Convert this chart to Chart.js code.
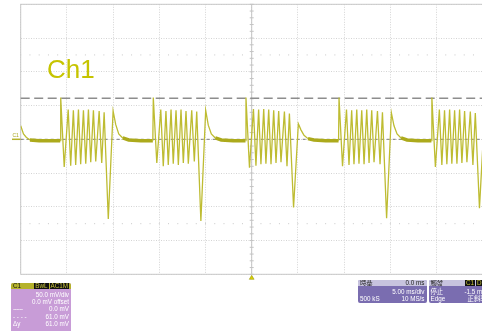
<!DOCTYPE html>
<html>
<head>
<meta charset="utf-8">
<script src="https://cdn.jsdelivr.net/npm/chart.js@4"></script>
<style>
  body { margin: 0; width: 482px; height: 331px; overflow: hidden; background: #fff; position: relative;
         font-family: 'Liberation Sans', 'Noto Sans CJK TC', sans-serif; }
  #wrap { position: absolute; left: 0; top: 0; width: 484px; height: 331px; }
  .ch1 { position: absolute; left: 47px; top: 55.8px; font-size: 26px; color: #c6c400; line-height: 26px; }
  .box { position: absolute; border-radius: 2px; overflow: hidden; color: #fff; font-size: 6.3px; }
  .hd { height: 6px; line-height: 6.4px; padding: 0 2px; display: flex; justify-content: space-between; }
  .row { height: 7.2px; line-height: 7.2px; padding: 0 2px; display: flex; justify-content: space-between; white-space: nowrap; }
  .chip { background: #111; color: #c8c43a; padding: 0 1px; margin-left: 1px; }
</style>
</head>
<body>
<div id="wrap"><canvas id="scopeChart" width="484" height="331"></canvas></div>
<div class="ch1">Ch1</div>

<div class="box" style="left:11px;top:283px;width:60px;height:50px;background:#c89cd7;">
  <div class="hd" style="background:#b5b22c;color:#111;"><span>C1</span><span><span class="chip">BwL</span><span class="chip">AC1M</span></span></div>
  <div style="height:2px"></div>
  <div class="row"><span></span><span>50.0 mV/div</span></div>
  <div class="row"><span></span><span>0.0 mV offset</span></div>
  <div class="row"><span style="letter-spacing:-0.5px">------</span><span>0.0 mV</span></div>
  <div class="row"><span>- - - -</span><span>61.0 mV</span></div>
  <div class="row"><span>Δy</span><span>61.0 mV</span></div>
</div>

<div class="box" style="left:358px;top:280px;width:68.5px;height:22.5px;background:#7a6db0;">
  <div class="hd" style="background:#c7c3de;color:#222;"><span>時基</span><span>0.0 ms</span></div>
  <div style="height:1.5px"></div>
  <div class="row"><span></span><span>5.00 ms/div</span></div>
  <div class="row"><span>500 kS</span><span>10 MS/s</span></div>
</div>

<div class="box" style="left:428.5px;top:280px;width:60px;height:22.5px;background:#7a6db0;">
  <div class="hd" style="background:#c7c3de;color:#222;"><span>觸發</span><span style="padding-right:4px"><span class="chip">C1</span><span class="chip">D</span></span></div>
  <div style="height:1.5px"></div>
  <div class="row"><span>停止</span><span>-1.5 mV</span></div>
  <div class="row"><span>Edge</span><span>正斜率</span></div>
</div>

<script>
// time in ms, voltage in mV (5 ms/div, 50 mV/div)
const leadIn = [[-25.0, 20], [-24.7, 8], [-24.4, 3], [-24.0, -1], [-23.0, -2], [-21.0, -2], [-20.72, -2]];

const burst1 = [
    [-20.67, 62], [-20.29, -41], [-19.86, 44], [-19.59, -39], [-19.30, 43], [-19.05, -38],
    [-18.75, 44], [-18.51, -37], [-18.21, 43], [-17.96, -36], [-17.67, 44], [-17.42, -34],
    [-17.13, 43], [-16.88, -33], [-16.51, 42], [-16.23, -35], [-15.97, 40], [-15.52, -118],
    [-15.00, 42], [-14.72, 22], [-14.39, 8], [-13.96, 2], [-13.31, -1], [-12.0, -2], [-10.70, -2]
];
const burst2 = [
    [-10.65, 62], [-10.27, -35], [-9.84, 44], [-9.57, -40], [-9.28, 42], [-9.03, -38],
    [-8.73, 44], [-8.49, -36], [-8.19, 43], [-7.94, -38], [-7.65, 44], [-7.40, -35],
    [-7.11, 42], [-6.86, -36], [-6.49, 43], [-6.21, -33], [-5.95, 41], [-5.50, -121],
    [-4.98, 43], [-4.70, 21], [-4.37, 8], [-3.94, 2], [-3.29, -1], [-2.0, -2], [-0.67, -2]
];
const burst3 = [
    [-0.62, 62], [-0.24, -42], [0.19, 45], [0.46, -39], [0.75, 44], [1.00, -37],
    [1.30, 45], [1.54, -36], [1.84, 44], [2.09, -37], [2.38, 43], [2.63, -35],
    [2.92, 42], [3.17, -34], [3.54, 41], [3.82, -40], [4.08, 38], [4.53, -101],
    [5.05, 23], [5.33, 14], [5.66, 6], [6.09, 1], [6.74, -1], [8.0, -2], [9.40, -2]
];
const burst4 = [
    [9.45, 62], [9.83, -40], [10.26, 44], [10.53, -38], [10.82, 43], [11.07, -37],
    [11.37, 44], [11.61, -36], [11.91, 43], [12.16, -37], [12.45, 44], [12.70, -35],
    [12.99, 43], [13.24, -34], [13.61, 42], [13.89, -37], [14.15, 40], [14.60, -117],
    [15.12, 39], [15.40, 20], [15.73, 8], [16.16, 2], [16.81, -1], [18.0, -2], [19.45, -2]
];
const burst5 = [
    [19.50, 62], [19.88, -41], [20.31, 44], [20.58, -38], [20.87, 43], [21.12, -37],
    [21.42, 44], [21.66, -36], [21.96, 43], [22.21, -36], [22.50, 44], [22.75, -35],
    [23.04, 42], [23.29, -34], [23.66, 41], [23.94, -38], [24.20, 39], [24.65, -102],
    [25.17, 30]
];

const cursorMv = [0.0, 61.0];
const timeRange = [-25, 25];
const voltRange = [-200, 200];

const trace = [...leadIn, ...burst1, ...burst2, ...burst3, ...burst4, ...burst5]
    .map(p => ({ x: p[0], y: p[1] }));

const scopeDecor = {
    id: 'scopeDecor',
    beforeDatasetsDraw(chart) {
        const { ctx, chartArea: a, scales: { x, y } } = chart;
        ctx.save();
        // frame
        ctx.strokeStyle = '#c9c9c9';
        ctx.lineWidth = 1;
        ctx.strokeRect(a.left, a.top, a.right - a.left, a.bottom - a.top);

        // minor ticks on centre vertical line
        const cx = x.getPixelForValue(0);
        ctx.strokeStyle = '#c4c4c4';
        ctx.beginPath();
        ctx.moveTo(cx, a.top); ctx.lineTo(cx, a.bottom);
        for (let v = -200; v <= 200; v += 10) {
            const py = y.getPixelForValue(v);
            ctx.moveTo(cx - 2, py); ctx.lineTo(cx + 2, py);
        }
        ctx.stroke();

        // dotted rows
        ctx.fillStyle = '#c8c8c8';
        [125, -125].forEach(v => {
            const py = y.getPixelForValue(v);
            for (let t = -25; t <= 25; t += 1) {
                ctx.fillRect(x.getPixelForValue(t) - 0.5, py - 0.5, 1, 1);
            }
        });

        // cursors
        const cy0 = y.getPixelForValue(cursorMv[0]);
        ctx.strokeStyle = '#7c7c7c';
        ctx.lineWidth = 1;
        ctx.setLineDash([3, 3]);
        ctx.beginPath(); ctx.moveTo(a.left, cy0); ctx.lineTo(a.right, cy0); ctx.stroke();

        const cy1 = y.getPixelForValue(cursorMv[1]);
        ctx.strokeStyle = '#8d8d8d';
        ctx.lineWidth = 1.5;
        ctx.setLineDash([9, 4.5]);
        ctx.beginPath(); ctx.moveTo(a.left, cy1); ctx.lineTo(a.right, cy1); ctx.stroke();
        ctx.restore();
    },
    afterDraw(chart) {
        const { ctx, chartArea: a, scales: { x, y } } = chart;
        ctx.save();
        // channel marker
        const gy = y.getPixelForValue(0);
        ctx.fillStyle = '#a9a720';
        ctx.font = '5px "Liberation Sans"';
        ctx.textBaseline = 'bottom';
        ctx.fillText('C1', 12.5, gy - 1);
        ctx.strokeStyle = '#b5b22c';
        ctx.lineWidth = 1.5;
        ctx.beginPath(); ctx.moveTo(12, gy); ctx.lineTo(a.left, gy); ctx.stroke();

        // trigger position marker
        const tx = x.getPixelForValue(0);
        ctx.fillStyle = '#d9d200';
        ctx.strokeStyle = '#9a9610';
        ctx.lineWidth = 0.6;
        ctx.beginPath();
        ctx.moveTo(tx, a.bottom + 1);
        ctx.lineTo(tx + 2.4, a.bottom + 5);
        ctx.lineTo(tx - 2.4, a.bottom + 5);
        ctx.closePath();
        ctx.fill(); ctx.stroke();
        ctx.restore();
    }
};

const isFlat = v => v >= -4 && v <= 2;

new Chart(document.getElementById('scopeChart'), {
    type: 'line',
    data: {
        datasets: [{
            label: 'C1',
            data: trace,
            borderColor: 'rgb(190,188,50)',
            borderWidth: 1.3,
            pointRadius: 0,
            tension: 0,
            segment: {
                borderWidth: c => (isFlat(c.p0.parsed.y) && isFlat(c.p1.parsed.y)) ? 3.5 : 1.3,
                borderColor: c => (isFlat(c.p0.parsed.y) && isFlat(c.p1.parsed.y)) ? 'rgb(172,170,28)' : 'rgb(190,188,50)'
            }
        }]
    },
    options: {
        responsive: false,
        animation: false,
        layout: { padding: { left: 20.7, top: 4.3, right: 1.3, bottom: 56.7 } },
        plugins: { legend: { display: false }, tooltip: { enabled: false } },
        scales: {
            x: {
                type: 'linear',
                min: timeRange[0],
                max: timeRange[1],
                ticks: { display: false, stepSize: 5 },
                grid: { color: '#d4d4d4', drawTicks: false },
                border: { display: false, dash: [1, 1.5] }
            },
            y: {
                min: voltRange[0],
                max: voltRange[1],
                ticks: { display: false, stepSize: 50 },
                grid: { color: '#d4d4d4', drawTicks: false },
                border: { display: false, dash: [1, 1.5] }
            }
        }
    },
    plugins: [scopeDecor]
});
</script>
</body>
</html>
